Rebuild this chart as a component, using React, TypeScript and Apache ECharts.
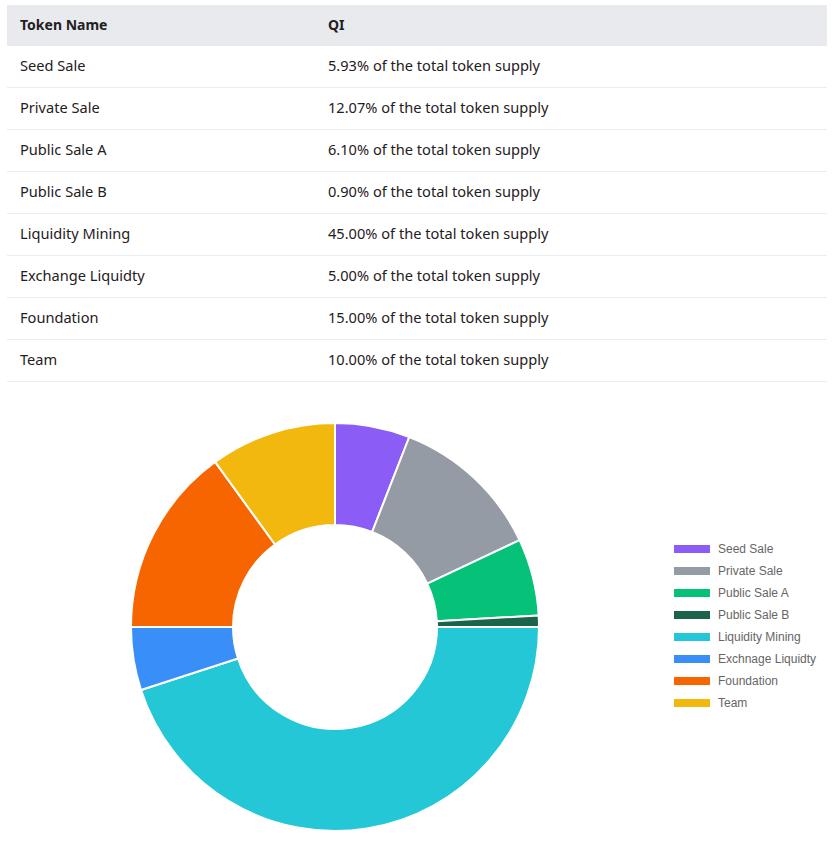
import React, { useEffect, useRef } from "react";
import * as echarts from "echarts";

const tokenNames = [
  "Seed Sale",
  "Private Sale",
  "Public Sale A",
  "Public Sale B",
  "Liquidity Mining",
  "Exchange Liquidty",
  "Foundation",
  "Team",
];
const legendNames = [
  "Seed Sale",
  "Private Sale",
  "Public Sale A",
  "Public Sale B",
  "Liquidity Mining",
  "Exchnage Liquidty",
  "Foundation",
  "Team",
];
const shares = [5.93, 12.07, 6.1, 0.9, 45.0, 5.0, 15.0, 10.0];
const colors = [
  "#8b5cf6",
  "#949ba4",
  "#06c178",
  "#1b6349",
  "#23c7d6",
  "#3a8ef7",
  "#f76500",
  "#f2b80d",
];

const font = "'Noto Sans', 'Open Sans', sans-serif";

function Chart() {
  const ref = useRef<HTMLDivElement>(null);
  useEffect(() => {
    if (!ref.current) return;
    const chart = echarts.init(ref.current, undefined, { renderer: "svg" });
    chart.setOption({
      animation: false,
      color: colors,
      legend: {
        orient: "vertical",
        left: 667,
        top: 155,
        icon: "rect",
        itemWidth: 38,
        itemHeight: 10,
        itemGap: 10,
        textStyle: {
          fontSize: 12,
          color: "#666",
          fontFamily: "'Liberation Sans', Arial, sans-serif",
          padding: [0, 0, 0, 2],
        },
        data: legendNames,
      },
      series: [
        {
          type: "pie",
          center: [335, 244],
          radius: [102, 204],
          startAngle: 90,
          clockwise: true,
          avoidLabelOverlap: false,
          label: { show: false },
          labelLine: { show: false },
          itemStyle: { borderColor: "#fff", borderWidth: 2 },
          data: shares.map((v, i) => ({ name: legendNames[i], value: v })),
        },
      ],
    });
    return () => chart.dispose();
  }, []);
  return <div ref={ref} style={{ position: "absolute", left: 0, top: 383, width: 832, height: 462 }} />;
}

export default function App() {
  const cell: React.CSSProperties = {
    height: 38,
    padding: 0,
    paddingBottom: 3,
    borderBottom: "1px solid #ebecef",
    fontSize: 14.6,
    color: "#1f2022",
    verticalAlign: "middle",
  };
  return (
    <div style={{ position: "absolute", left: 0, top: 0, width: 832, height: 845, background: "#fff", fontFamily: font }}>
      <table
        style={{
          position: "absolute",
          left: 7,
          top: 5,
          width: 820,
          borderCollapse: "collapse",
          tableLayout: "fixed",
        }}
      >
        <thead>
          <tr style={{ background: "#e9eaee" }}>
            <th style={{ ...cell, width: 295, paddingLeft: 13, textAlign: "left", fontWeight: 700, fontSize: 14, borderBottom: "none" }}>
              Token Name
            </th>
            <th style={{ ...cell, paddingLeft: 13, textAlign: "left", fontWeight: 700, fontSize: 14, borderBottom: "none" }}>QI</th>
          </tr>
        </thead>
        <tbody>
          {tokenNames.map((n, i) => (
            <tr key={n}>
              <td style={{ ...cell, paddingLeft: 13 }}>{n}</td>
              <td style={{ ...cell, paddingLeft: 13 }}>{shares[i].toFixed(2)}% of the total token supply</td>
            </tr>
          ))}
        </tbody>
      </table>
      <Chart />
    </div>
  );
}
